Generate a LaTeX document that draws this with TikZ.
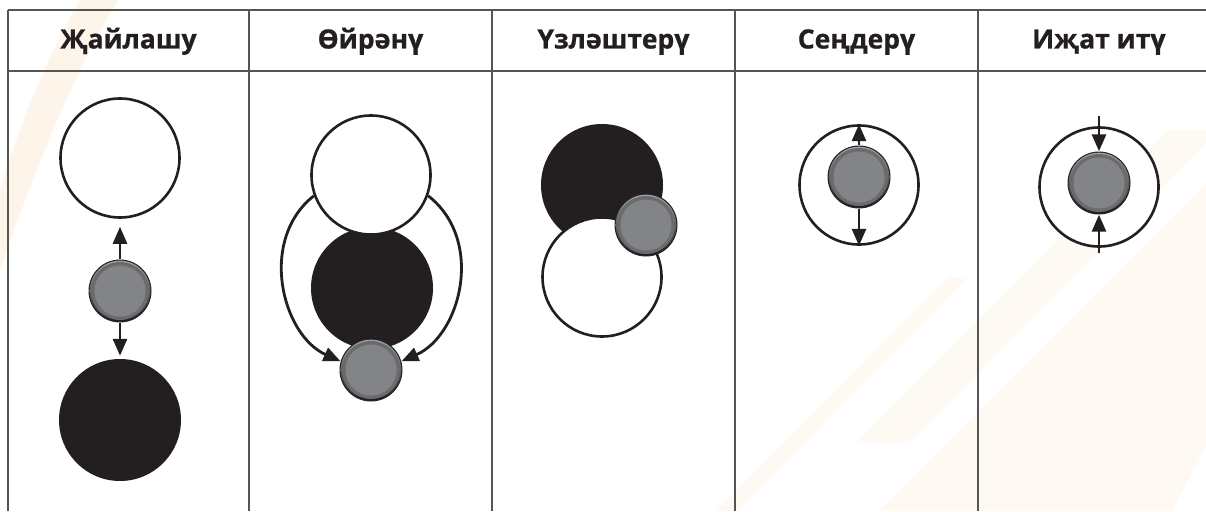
\documentclass[tikz,border=0pt]{standalone}
\usepackage{fontspec}
\setmainfont{Open Sans}[BoldFeatures={FakeBold=0.8}]
\usetikzlibrary{arrows.meta}
\definecolor{ballgray}{HTML}{838487}
\definecolor{inkblack}{HTML}{231F20}
\definecolor{rulegray}{HTML}{555555}
\definecolor{peach}{HTML}{FEF9F3}
\definecolor{peachb}{HTML}{FEF5EA}
\begin{document}
\begin{tikzpicture}[x=1pt,y=-1pt,
  head/.style={font=\bfseries\fontsize{26.5}{30}\selectfont, text=inkblack, anchor=base},
  ring/.style={circle, draw=inkblack, line width=2.6pt, fill=white, minimum size=#1, inner sep=0pt},
  disc/.style={circle, fill=inkblack, minimum size=#1, inner sep=0pt},
  ball/.style={circle, minimum size=63pt, inner sep=0pt, fill=black!85,
    path picture={
      \shade[top color=black!35, bottom color=black!90] (path picture bounding box.center) circle (30.3pt);
      \shade[inner color=ballgray, outer color=ballgray!80!black] (path picture bounding box.center) circle (29pt);
      \fill[ballgray] (path picture bounding box.center) circle (25.5pt);
    }},
  arr/.style={line width=2.8pt, draw=inkblack, -{Triangle[length=17pt,width=14pt]}},
  tablerule/.style={draw=rulegray, line width=1.5pt},
]
\useasboundingbox (0,0) rectangle (1206,511);
\fill[white] (0,0) rectangle (1206,511);
% faint background stripes
\fill[peachb] (80,0) .. controls (45,60) and (18,130) .. (0,190) -- (0,270) .. controls (35,170) and (70,80) .. (118,0) -- cycle;
\fill[peach] (716,511) -- (948,277) -- (969,277) -- (737,511) -- cycle;
\fill[peach] (855,443) -- (1168,130) -- (1219,130) -- (909,443) -- cycle;
\fill[peach] (878,511) -- (1206,183) -- (1206,447) -- (1172,511) -- cycle;
% table
\draw[tablerule] (8,10) -- (1206,10);
\draw[tablerule] (8,71) -- (1206,71);
\foreach \xx in {8,249,492,735,978} \draw[tablerule] (\xx,10) -- (\xx,511);
% headers
\node[head] (h1) at (128.5,48.5) {Җайлашу};
\node[head] (h2) at (370.5,48.5) {Өйрәнү};
\node[head] (h3) at (613.5,48.5) {Үзләштерү};
\node[head] (h4) at (856.5,48.5) {Сеңдерү};
\node[head] (h5) at (1099,48.5) {Иҗат итү};
% column 1
\node[ring=119pt] (w1) at (120,158) {};
\node[disc=122pt] (k1) at (120,420) {};
\node[ball] (g1) at (120,291) {};
\draw[arr, shorten >=8pt] (g1) -- (w1);
\draw[arr, shorten >=3pt] (g1) -- (k1);
% column 2
\node[disc=122pt] (k2) at (372,288) {};
\node[ring=119pt] (w2) at (371,175) {};
\node[ball] (g2) at (371,370) {};
\draw[arr] (w2.200) .. controls (258,240) and (282,335) .. (g2.164);
\draw[arr] (w2.340) .. controls (485,240) and (461,335) .. (g2.16);
% column 3
\node[disc=122pt] (k3) at (602,185) {};
\node[ring=119pt] (w3) at (602,277) {};
\node[ball] (g3) at (646,225) {};
% column 4
\node[ring=119pt] (o4) at (859,185) {};
\node[ball] (g4) at (859,177) {};
\draw[arr] (g4) -- (o4.north);
\draw[arr] (g4) -- (o4.south);
% column 5
\node[ring=119pt] (o5) at (1099,187) {};
\node[ball] (g5) at (1099,183) {};
\coordinate (t5) at (1099,116);
\coordinate (b5) at (1099,253);
\draw[arr] (t5) -- (g5);
\draw[arr] (b5) -- (g5);
\end{tikzpicture}
\end{document}
